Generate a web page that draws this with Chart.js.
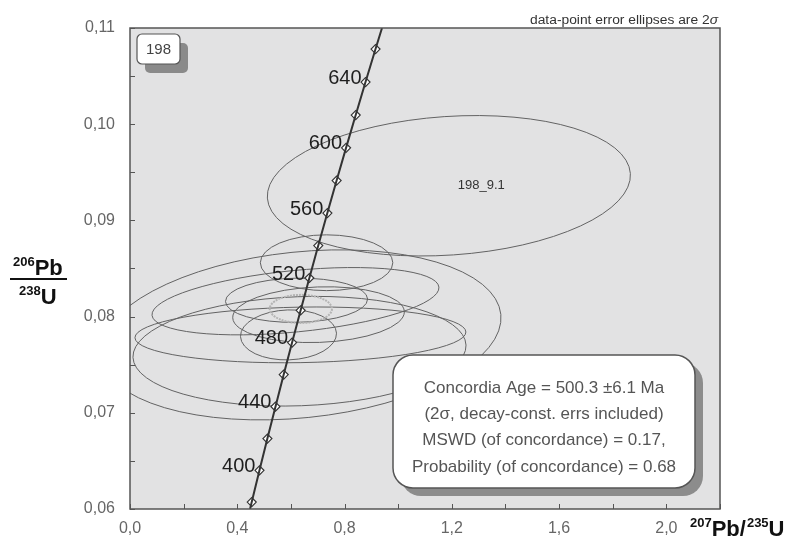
<!DOCTYPE html>
<html>
<head>
<meta charset="utf-8">
<script src="https://cdn.jsdelivr.net/npm/chart.js@4.4.1/dist/chart.umd.min.js"></script>
<style>
  html, body { margin: 0; padding: 0; background: #fff; }
  #wrap { width: 789px; height: 550px; position: relative; }
</style>
</head>
<body>
<div id="wrap"><canvas id="concordiaChart" width="789" height="550"></canvas></div>
<script>
// concordia curve, age ticks every 20 Ma (207Pb/235U, 206Pb/238U)
const concAges = [380, 400, 420, 440, 460, 480, 500, 520, 540, 560, 580, 600, 620, 640, 660];
const concX = [0.4539, 0.4828, 0.5123, 0.5424, 0.5731, 0.6044, 0.6363, 0.6688, 0.7020, 0.7359, 0.7704, 0.8056, 0.8416, 0.8782, 0.9155];
const concY = [0.06072, 0.06402, 0.06732, 0.07064, 0.07397, 0.07730, 0.08065, 0.08401, 0.08738, 0.09076, 0.09414, 0.09754, 0.10095, 0.10438, 0.10781];
const labelledAges = [400, 440, 480, 520, 560, 600, 640];
// where the curve leaves the plot at the bottom and the top
const curveEndX = [0.4476, 0.9397];
const curveEndY = [0.06, 0.11];

// spot analyses: centre, 2 sigma half widths, error correlation
const spotX    = [1.189, 0.733, 0.591, 0.621, 0.617, 0.632, 0.6355, 0.703, 0.6355];
const spotY    = [0.0936, 0.0856, 0.0781, 0.0817, 0.0816, 0.0764, 0.0781, 0.0802, 0.0781];
const spotErrX = [0.677, 0.247, 0.179, 0.265, 0.535, 0.621, 0.748, 0.320, 0.617];
const spotErrY = [0.0073, 0.0029, 0.0026, 0.0023, 0.0035, 0.0057, 0.00884, 0.0029, 0.0029];
const spotRho  = [0.15, 0.0, 0.05, 0.05, 0.4, 0.1, 0.2, 0.1, 0.1];
const spotNames = ['198_9.1'];
const spotNameX = [1.31];

// concordia age ellipse
const ageX = 0.637, ageY = 0.0808, ageErrX = 0.116, ageErrY = 0.00146;

const resultLines = [
    'Concordia Age = 500.3 \u00b16.1 Ma',
    '(2\u03c3, decay-const. errs included)',
    'MSWD (of concordance) = 0.17,',
    'Probability (of concordance) = 0.68'
];
const sampleName = '198';

const FONT = "'Liberation Sans', Arial, sans-serif";

function roundRect(ctx, x, y, w, h, r) {
    ctx.beginPath();
    ctx.moveTo(x + r, y);
    ctx.arcTo(x + w, y, x + w, y + h, r);
    ctx.arcTo(x + w, y + h, x, y + h, r);
    ctx.arcTo(x, y + h, x, y, r);
    ctx.arcTo(x, y, x + w, y, r);
    ctx.closePath();
}

function drawEllipse(ctx, xs, ys, cx, cy, ex, ey, rho) {
    const px = xs.getPixelForValue(cx), py = ys.getPixelForValue(cy);
    const a = Math.abs(xs.getPixelForValue(cx + ex) - px);
    const b = Math.abs(ys.getPixelForValue(cy + ey) - py);
    const c = -rho * a * b; // screen y runs downwards
    const mean = (a * a + b * b) / 2, diff = (a * a - b * b) / 2;
    const r = Math.sqrt(diff * diff + c * c);
    const ang = 0.5 * Math.atan2(2 * c, a * a - b * b);
    ctx.beginPath();
    ctx.ellipse(px, py, Math.sqrt(mean + r), Math.sqrt(Math.max(mean - r, 0.01)), ang, 0, Math.PI * 2);
    ctx.stroke();
}

const backgroundPlugin = {
    id: 'plotBackground',
    beforeDraw(chart) {
        const { ctx, chartArea: a } = chart;
        ctx.save();
        ctx.fillStyle = '#e2e2e3';
        ctx.fillRect(a.left, a.top, a.right - a.left, a.bottom - a.top);
        ctx.restore();
    }
};

const ellipsePlugin = {
    id: 'errorEllipses',
    beforeDatasetsDraw(chart) {
        const { ctx, chartArea: a, scales: { x, y } } = chart;
        ctx.save();
        ctx.beginPath();
        ctx.rect(a.left, a.top, a.right - a.left, a.bottom - a.top);
        ctx.clip();
        ctx.strokeStyle = '#636363';
        ctx.lineWidth = 1;
        spotX.forEach((v, i) => drawEllipse(ctx, x, y, v, spotY[i], spotErrX[i], spotErrY[i], spotRho[i]));
        ctx.strokeStyle = '#b4b4b4';
        ctx.lineWidth = 2;
        ctx.setLineDash([2, 1]);
        drawEllipse(ctx, x, y, ageX, ageY, ageErrX, ageErrY, 0);
        ctx.setLineDash([]);
        ctx.fillStyle = '#333';
        ctx.font = '13px ' + FONT;
        ctx.textAlign = 'center';
        ctx.textBaseline = 'middle';
        ctx.fillText(spotNames[0], x.getPixelForValue(spotNameX[0]), y.getPixelForValue(spotY[0]));
        ctx.restore();
    }
};

const overlayPlugin = {
    id: 'overlay',
    afterDatasetsDraw(chart) {
        const { ctx, chartArea: a, scales: { x, y } } = chart;
        ctx.save();

        // age labels on the curve
        ctx.fillStyle = '#1e1e1e';
        ctx.font = '20px ' + FONT;
        ctx.textAlign = 'right';
        ctx.textBaseline = 'middle';
        labelledAges.forEach(age => {
            const i = concAges.indexOf(age);
            ctx.fillText(String(age), x.getPixelForValue(concX[i]) - 4, y.getPixelForValue(concY[i]) - 4);
        });

        // inward ticks
        ctx.strokeStyle = '#555';
        ctx.lineWidth = 1;
        ctx.beginPath();
        x.ticks.forEach(t => {
            const px = Math.round(x.getPixelForValue(t.value)) + 0.5;
            ctx.moveTo(px, a.bottom);
            ctx.lineTo(px, a.bottom - 5);
        });
        y.ticks.forEach(t => {
            const py = Math.round(y.getPixelForValue(t.value)) + 0.5;
            ctx.moveTo(a.left, py);
            ctx.lineTo(a.left + 5, py);
        });
        ctx.stroke();

        // frame
        ctx.strokeStyle = '#555';
        ctx.lineWidth = 1.5;
        ctx.strokeRect(a.left, a.top, a.right - a.left, a.bottom - a.top);

        // result box with shadow
        const bx = 393, by = 355, bw = 302, bh = 133;
        ctx.fillStyle = '#8c8c8c';
        roundRect(ctx, bx + 8, by + 8, bw, bh, 20);
        ctx.fill();
        ctx.fillStyle = '#fff';
        roundRect(ctx, bx, by, bw, bh, 20);
        ctx.fill();
        ctx.strokeStyle = '#555';
        ctx.lineWidth = 1.5;
        ctx.stroke();
        ctx.fillStyle = '#555';
        ctx.font = '17px ' + FONT;
        ctx.textAlign = 'center';
        ctx.textBaseline = 'middle';
        resultLines.forEach((line, i) => ctx.fillText(line, bx + bw / 2, by + 33 + i * 26.3));

        // sample label
        ctx.fillStyle = '#8a8a8a';
        roundRect(ctx, 145, 43, 43, 30, 5);
        ctx.fill();
        ctx.fillStyle = '#fff';
        roundRect(ctx, 137, 34, 43, 30, 5);
        ctx.fill();
        ctx.strokeStyle = '#555';
        ctx.lineWidth = 1.2;
        ctx.stroke();
        ctx.fillStyle = '#444';
        ctx.font = '15px ' + FONT;
        ctx.fillText(sampleName, 158.5, 49.5);

        // note above the frame, stretched to the width it has in the original
        ctx.fillStyle = '#333';
        ctx.textAlign = 'left';
        ctx.textBaseline = 'alphabetic';
        ctx.font = '12.5px ' + FONT;
        const note = 'data-point error ellipses are 2';
        const w1 = ctx.measureText(note).width;
        ctx.font = 'italic 12.5px ' + FONT;
        const w2 = ctx.measureText('\u03c3').width;
        const k = 188 / (w1 + w2);
        ctx.save();
        ctx.translate(a.right - 2 - 188, 24);
        ctx.scale(k, 1);
        ctx.font = '12.5px ' + FONT;
        ctx.fillText(note, 0, 0);
        ctx.font = 'italic 12.5px ' + FONT;
        ctx.fillText('\u03c3', w1, 0);
        ctx.restore();

        // axis titles with superscripts
        ctx.textAlign = 'left';
        ctx.textBaseline = 'alphabetic';
        ctx.fillStyle = '#111';
        const parts = (list, x0, base) => {
            let cx = x0;
            list.forEach(([txt, sup]) => {
                ctx.font = (sup ? 'bold 13px ' : 'bold 22px ') + FONT;
                ctx.fillText(txt, cx, sup ? base - 9 : base);
                cx += ctx.measureText(txt).width + (sup ? 0 : 1);
            });
            return cx;
        };
        parts([['207', true], ['Pb/', false], ['235', true], ['U', false]], 690, 536);
        parts([['206', true], ['Pb', false]], 13, 275);
        ctx.fillRect(10, 278, 57, 2);
        parts([['238', true], ['U', false]], 19, 304);

        ctx.restore();
    }
};

const curvePts = [{ x: curveEndX[0], y: curveEndY[0] }]
    .concat(concX.map((v, i) => ({ x: v, y: concY[i] })))
    .concat([{ x: curveEndX[1], y: curveEndY[1] }]);
const markerPts = concX.map((v, i) => ({ x: v, y: concY[i] }));

const tickFont = { family: FONT, size: 16 };

new Chart(document.getElementById('concordiaChart').getContext('2d'), {
    type: 'scatter',
    data: {
        datasets: [
            {
                data: curvePts,
                showLine: true,
                borderColor: '#333',
                borderWidth: 2,
                pointRadius: 0
            },
            {
                data: markerPts,
                showLine: false,
                pointStyle: 'rectRot',
                pointRadius: 4.5,
                pointBackgroundColor: '#fff',
                pointBorderColor: '#333',
                pointBorderWidth: 1.2
            }
        ]
    },
    options: {
        responsive: false,
        animation: false,
        layout: { padding: { top: 28, right: 69, left: 0, bottom: 0 } },
        plugins: { legend: { display: false }, tooltip: { enabled: false } },
        scales: {
            x: {
                type: 'linear',
                min: 0,
                max: 2.2,
                grid: { display: false, drawTicks: false },
                border: { display: false },
                ticks: {
                    stepSize: 0.2,
                    padding: 10,
                    color: '#666',
                    font: tickFont,
                    autoSkip: false,
                    maxRotation: 0,
                    callback: v => {
                        const k = Math.round(v * 10);
                        return k % 4 === 0 ? (k / 10).toFixed(1).replace('.', ',') : '';
                    }
                },
                afterFit: s => { s.height = 41; }
            },
            y: {
                type: 'linear',
                min: 0.06,
                max: 0.11,
                grid: { display: false, drawTicks: false },
                border: { display: false },
                ticks: {
                    stepSize: 0.005,
                    padding: 15,
                    color: '#666',
                    font: tickFont,
                    autoSkip: false,
                    callback: v => {
                        const k = Math.round(v * 200);
                        return k % 2 === 0 ? (k / 200).toFixed(2).replace('.', ',') : '';
                    }
                },
                afterFit: s => { s.width = 130; }
            }
        }
    },
    plugins: [backgroundPlugin, ellipsePlugin, overlayPlugin]
});
</script>
</body>
</html>
